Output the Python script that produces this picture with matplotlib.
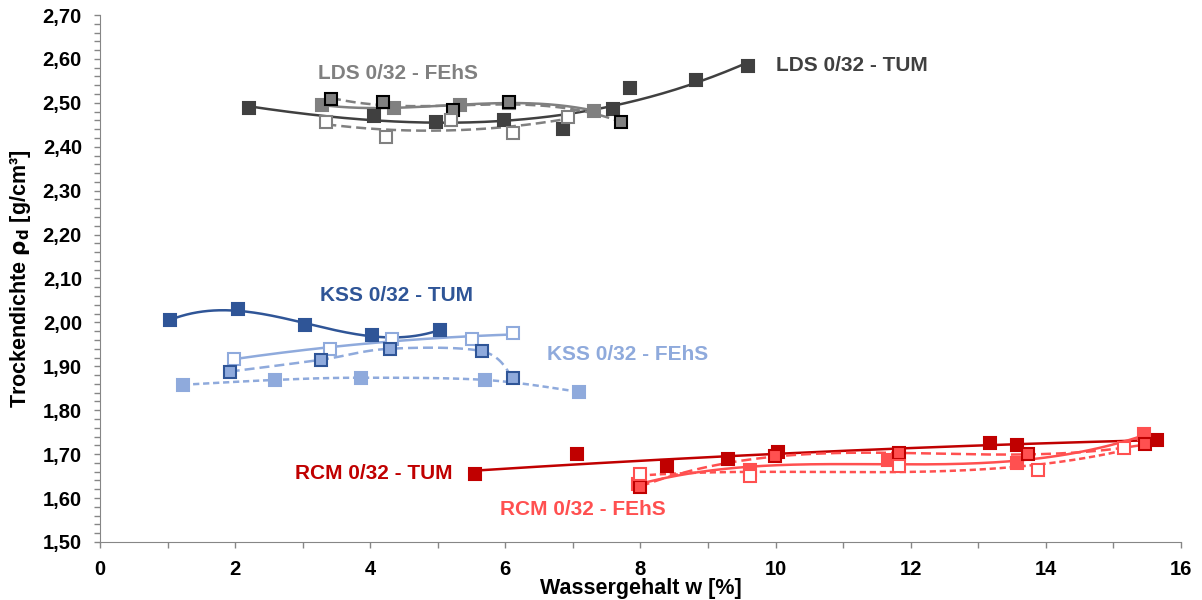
import numpy as np
import matplotlib.pyplot as plt
from matplotlib.ticker import FuncFormatter, MultipleLocator

plt.rcParams['font.family'] = ['Liberation Sans', 'DejaVu Sans']
plt.rcParams['font.weight'] = 'bold'

# LDS 0/32
lds_tum_w = [2.20, 4.05, 4.97, 5.98, 6.86, 7.59, 7.84, 8.82, 9.59]
lds_tum_rho = [2.489, 2.470, 2.456, 2.461, 2.440, 2.486, 2.534, 2.553, 2.583]
lds_fehs1_w = [3.28, 4.35, 5.33, 6.05, 7.31]
lds_fehs1_rho = [2.495, 2.489, 2.495, 2.500, 2.482]
lds_fehs2_w = [3.42, 4.19, 5.22, 6.05, 7.71]
lds_fehs2_rho = [2.509, 2.502, 2.484, 2.502, 2.456]
lds_fehs3_w = [3.35, 4.23, 5.19, 6.12, 6.92]
lds_fehs3_rho = [2.456, 2.422, 2.461, 2.431, 2.468]

# KSS 0/32
kss_tum_w = [1.04, 2.04, 3.03, 4.02, 5.03]
kss_tum_rho = [2.005, 2.030, 1.993, 1.972, 1.982]
kss_fehs1_w = [1.99, 3.40, 4.32, 5.50, 6.11]
kss_fehs1_rho = [1.917, 1.940, 1.963, 1.963, 1.975]
kss_fehs2_w = [1.92, 3.27, 4.29, 5.66, 6.11]
kss_fehs2_rho = [1.888, 1.915, 1.940, 1.934, 1.874]
kss_fehs3_w = [1.23, 2.59, 3.86, 5.70, 7.09]
kss_fehs3_rho = [1.858, 1.869, 1.874, 1.869, 1.842]

# RCM 0/32
rcm_tum_w = [5.55, 7.06, 8.39, 9.29, 10.04, 13.18, 13.58, 15.65]
rcm_tum_rho = [1.654, 1.700, 1.674, 1.690, 1.704, 1.725, 1.720, 1.732]
rcm_fehs1_w = [7.96, 9.62, 11.66, 13.58, 15.46]
rcm_fehs1_rho = [1.633, 1.665, 1.686, 1.679, 1.745]
rcm_fehs2_w = [7.99, 9.99, 11.82, 13.73, 15.47]
rcm_fehs2_rho = [1.626, 1.695, 1.702, 1.700, 1.722]
rcm_fehs3_w = [7.99, 9.62, 11.83, 13.88, 15.16]
rcm_fehs3_rho = [1.654, 1.651, 1.672, 1.665, 1.713]

c_lds_tum, c_lds_fehs = '#404040', '#808080'
c_kss_tum, c_kss_fehs = '#2F5597', '#8FAADC'
c_rcm_tum, c_rcm_fehs = '#C00000', '#FF5050'
c_axis = '#868686'


def trend(ax, w, rho, deg, color, ls):
    # polynomial trendline like in Excel
    p = np.polyfit(w, rho, deg)
    xs = np.linspace(min(w), max(w), 200)
    ax.plot(xs, np.polyval(p, xs), color=color, lw=1.8, ls=ls, zorder=2)


def smooth(ax, w, rho, color, ls):
    # catmull-rom curve through the points (Excel "smoothed line")
    pts = np.column_stack([w, rho])
    pts = np.vstack([pts[0], pts, pts[-1]])
    t = np.linspace(0, 1, 30)[:, None]
    out = []
    for i in range(1, len(pts) - 2):
        p0, p1, p2, p3 = pts[i - 1], pts[i], pts[i + 1], pts[i + 2]
        seg = 0.5 * ((2 * p1) + (-p0 + p2) * t + (2 * p0 - 5 * p1 + 4 * p2 - p3) * t ** 2
                     + (-p0 + 3 * p1 - 3 * p2 + p3) * t ** 3)
        out.append(seg)
    out = np.vstack(out)
    ax.plot(out[:, 0], out[:, 1], color=color, lw=1.8, ls=ls, zorder=2)


def marks(ax, w, rho, face, edge):
    ax.plot(w, rho, ls='none', marker='s', ms=8, mfc=face, mec=edge, mew=1.5, zorder=3)


fig = plt.figure(figsize=(12.02, 6), dpi=100)
ax = fig.add_axes([0.0832, 0.0967, 0.8993, 0.8783])

dash = (0, (4, 2))
sdash = (0, (2.5, 1.5))

# LDS
trend(ax, lds_tum_w, lds_tum_rho, 3, c_lds_tum, '-')
marks(ax, lds_tum_w, lds_tum_rho, c_lds_tum, c_lds_tum)
trend(ax, lds_fehs1_w, lds_fehs1_rho, 3, c_lds_fehs, '-')
marks(ax, lds_fehs1_w, lds_fehs1_rho, c_lds_fehs, c_lds_fehs)
trend(ax, lds_fehs2_w, lds_fehs2_rho, 3, c_lds_fehs, dash)
marks(ax, lds_fehs2_w, lds_fehs2_rho, c_lds_fehs, '#000000')
trend(ax, lds_fehs3_w, lds_fehs3_rho, 2, c_lds_fehs, dash)
marks(ax, lds_fehs3_w, lds_fehs3_rho, 'white', c_lds_fehs)

# KSS
trend(ax, kss_tum_w, kss_tum_rho, 3, c_kss_tum, '-')
marks(ax, kss_tum_w, kss_tum_rho, c_kss_tum, c_kss_tum)
trend(ax, kss_fehs1_w, kss_fehs1_rho, 2, c_kss_fehs, '-')
marks(ax, kss_fehs1_w, kss_fehs1_rho, 'white', c_kss_fehs)
smooth(ax, kss_fehs2_w, kss_fehs2_rho, c_kss_fehs, dash)
marks(ax, kss_fehs2_w, kss_fehs2_rho, c_kss_fehs, c_kss_tum)
smooth(ax, kss_fehs3_w, kss_fehs3_rho, c_kss_fehs, sdash)
marks(ax, kss_fehs3_w, kss_fehs3_rho, c_kss_fehs, c_kss_fehs)

# RCM
trend(ax, rcm_tum_w, rcm_tum_rho, 2, c_rcm_tum, '-')
marks(ax, rcm_tum_w, rcm_tum_rho, c_rcm_tum, c_rcm_tum)
trend(ax, rcm_fehs1_w, rcm_fehs1_rho, 3, c_rcm_fehs, '-')
marks(ax, rcm_fehs1_w, rcm_fehs1_rho, c_rcm_fehs, c_rcm_fehs)
trend(ax, rcm_fehs2_w, rcm_fehs2_rho, 3, c_rcm_fehs, dash)
marks(ax, rcm_fehs2_w, rcm_fehs2_rho, c_rcm_fehs, c_rcm_tum)
trend(ax, rcm_fehs3_w, rcm_fehs3_rho, 3, c_rcm_fehs, sdash)
marks(ax, rcm_fehs3_w, rcm_fehs3_rho, 'white', c_rcm_fehs)

# series labels
lab = dict(fontsize=15, fontweight='bold', va='center', ha='left')
ax.text(10.0, 2.585, 'LDS 0/32 - TUM', color=c_lds_tum, **lab)
ax.text(3.22, 2.566, 'LDS 0/32 - FEhS', color=c_lds_fehs, **lab)
ax.text(3.25, 2.062, 'KSS 0/32 - TUM', color=c_kss_tum, **lab)
ax.text(6.61, 1.927, 'KSS 0/32 - FEhS', color=c_kss_fehs, **lab)
ax.text(2.88, 1.656, 'RCM 0/32 - TUM', color=c_rcm_tum, **lab)
ax.text(5.92, 1.573, 'RCM 0/32 - FEhS', color=c_rcm_fehs, **lab)

ax.set_xlim(0, 16)
ax.set_ylim(1.5, 2.7)
ax.xaxis.set_major_locator(MultipleLocator(2))
ax.xaxis.set_minor_locator(MultipleLocator(1))
ax.yaxis.set_major_locator(MultipleLocator(0.1))
ax.yaxis.set_minor_locator(MultipleLocator(0.02))
ax.yaxis.set_major_formatter(FuncFormatter(lambda v, p: f'{v:.2f}'.replace('.', ',')))
ax.tick_params(which='both', color=c_axis, length=4, width=1)
ax.tick_params(which='major', labelsize=14.5, pad=9)
for t in ax.get_xticklabels() + ax.get_yticklabels():
    t.set_fontweight('bold')
ax.spines['top'].set_visible(False)
ax.spines['right'].set_visible(False)
ax.spines['left'].set_color(c_axis)
ax.spines['bottom'].set_color(c_axis)

ax.set_xlabel('Wassergehalt w [%]', fontsize=15.5, fontweight='bold', labelpad=-1)
ax.set_ylabel(r'Trockendichte $\mathbf{\rho_d}$ [g/cm³]', fontsize=15.5, fontweight='bold', labelpad=7)

fig.savefig('out.png', dpi=100)
